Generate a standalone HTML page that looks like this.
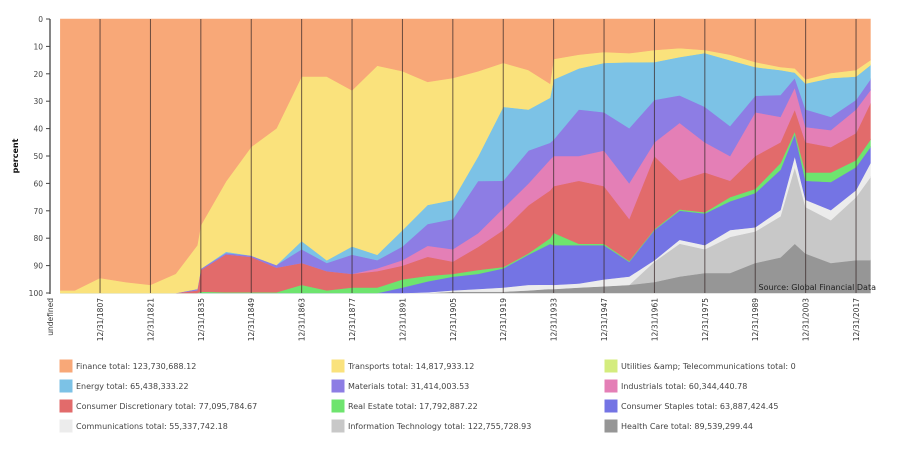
<!DOCTYPE html>
<html><head><meta charset="utf-8"><style>
body{margin:0;background:#fff;width:902px;height:454px;overflow:hidden;font-family:"DejaVu Sans","Liberation Sans",sans-serif}
svg{display:block}
</style></head><body>
<svg id="chart" width="902" height="454" xmlns="http://www.w3.org/2000/svg"></svg>
<script>
const years=[1796,1800,1807,1814,1821,1828,1834,1835,1842,1849,1856,1863,1870,1877,1884,1891,1898,1905,1912,1919,1926,1932,1933,1940,1947,1954,1961,1968,1975,1982,1989,1996,2000,2003,2010,2017,2021];
const finance=[99,99,94.5,96,97,93,83,76,60,47,40,21,21,26,17,19,23,21.5,19,16,18.6,23,14.6,13,12,12.4,11.3,10.6,11.3,13,15.7,17.5,18,22,19.7,18.6,15];
const transports=[1,1,5.5,4,3,7,16,16,26,40,50,60,67,57,69,58,45,44.5,31,16,14.4,5,7.4,5,4,3.3,4.4,3.2,1.1,2,1.8,1.1,1.5,1.5,1.8,2.4,1.8];
const utilities=[0,0,0,0,0,0,0,0,0,0,0,0,0,0,0,0,0,0,0,0,0,0,0,0,0,0,0,0,0,0,0,0,0,0,0,0,0];
const energy=[0,0,0,0,0,0,0,0,0.5,0,0,3,1,3,2,6,7,7,9,27,15,16,22,15,18,24,13.8,14,19.6,24,10.5,9.1,2,9.5,14.2,8.5,5.2];
const materials=[0,0,0,0,0,0,0.5,0.5,0.5,0.5,1,5,3,7,3,5,8,11,19,10,12,6,6,17,14,20,15.5,10,13,11,6,8,3.5,6.4,4.8,3.5,4];
const industrials=[0,0,0,0,0,0,0,0,0,0,0,0,0,0,1,2,4,4.5,5,8,8,11,11,9,13,13,5,21,11,9,16,9.3,8,5.6,6.2,8.6,4.7];
const consumerDisc=[0,0,0,0,0,0,1,8,14,13,9,8,7,5,6,5,7,4.5,8.4,13.5,17.5,17,17,23,21,15.3,26.7,10.5,14.5,6,12,7.6,8,11,9.3,9.9,13.3];
const realEstate=[0,0,0,0,0,0,0,0.5,0.3,0.3,0.3,3,1,2,2,3,2,1,1.4,0.5,0.5,2,4.5,0.5,0.5,0.3,0.3,0.5,0.5,1.5,1.5,2.4,1,3,3.5,2.5,2.7];
const consumerStaples=[0,0,0,0,0,0,0,0,0,0,0,0,0,0,0,2,4,5,5.5,7,11,14.5,14.5,14,12.5,5.4,11,10.6,11.5,10.5,12.5,14.7,8,7,10.2,8.4,5.9];
const communications=[0,0,0,0,0,0,0,0,0,0,0,0,0,0,0,0,0.3,0.5,1,1.5,2,1.5,1.5,1.5,2.5,3,0.5,1.4,1.5,2.5,1.5,2.3,4,2.6,3.7,2.6,5.1];
const infoTech=[0,0,0,0,0,0,0,0,0,0,0,0,0,0,0,0,0,0,0,0,0,0,0,0,0,0,7.5,12,8.7,13.2,11.5,15,28,17,15.6,23,30.3];
const healthCare=[0,0,0,0,0,0,0,0,0,0,0,0,0,0,0,0,0,0.5,0.5,0.5,1,1.5,1.5,2,2.5,3,4,6,7.3,7.3,11,13,18,14.4,11,12,12];
const yTicks=[0,10,20,30,40,50,60,70,80,90,100];
const xTickYears=[1807,1821,1835,1849,1863,1877,1891,1905,1919,1933,1947,1961,1975,1989,2003,2017];
const legendLabels=["Finance total: 123,730,688.12","Transports total: 14,817,933.12","Utilities &amp; Telecommunications total: 0","Energy total: 65,438,333.22","Materials total: 31,414,003.53","Industrials total: 60,344,440.78","Consumer Discretionary total: 77,095,784.67","Real Estate total: 17,792,887.22","Consumer Staples total: 63,887,424.45","Communications total: 55,337,742.18","Information Technology total: 122,755,728.93","Health Care total: 89,539,299.44"];

const NS="http://www.w3.org/2000/svg";
const svg=document.getElementById('chart');
function mk(t,a,p){const e=document.createElementNS(NS,t);for(const k in a)e.setAttribute(k,a[k]);(p||svg).appendChild(e);return e;}
const X=y=>50+(y-1793.1)*3.6;
const Y=v=>19+v*2.74;
const stack=[
 ["health-care",healthCare,"#969696"],["information-technology",infoTech,"#c8c8c8"],["communications",communications,"#ececec"],
 ["consumer-staples",consumerStaples,"#7474e4"],["real-estate",realEstate,"#6ee46e"],["consumer-discretionary",consumerDisc,"#e26b6b"],
 ["industrials",industrials,"#e47fb6"],["materials",materials,"#8d7de4"],["energy",energy,"#7cc2e6"],
 ["utilities",utilities,"#d4ec7e"],["transports",transports,"#fae27c"],["finance",finance,"#f8a878"]];
const totals=years.map((_,i)=>stack.reduce((s,d)=>s+d[1][i],0));
let base=years.map(()=>0);
stack.forEach(([name,vals,col])=>{
  const top=base.map((b,i)=>b+vals[i]/totals[i]*100);
  let d="";
  years.forEach((yr,i)=>{d+=(i?"L":"M")+X(yr).toFixed(1)+","+Y(100-top[i]).toFixed(1);});
  for(let i=years.length-1;i>=0;i--)d+="L"+X(years[i]).toFixed(1)+","+Y(100-base[i]).toFixed(1);
  const p=mk('path',{d:d+"Z",fill:col,stroke:col,'stroke-width':0.6});
  
  
  base=top;
});
xTickYears.forEach(yr=>{
  const x=X(yr);
  const l=mk('line',{x1:x,x2:x,y1:19,y2:293,stroke:'#3a2a2a','stroke-width':1,'stroke-opacity':0.75});
  
  
  const t=mk('text',{x:0,y:0,transform:`translate(${x+3},298) rotate(-90)`,'text-anchor':'end','font-size':7.5,fill:'#333'});
  t.textContent='12/31/'+yr;
  
  
});
const u=mk('text',{transform:'translate(53,298) rotate(-90)','text-anchor':'end','font-size':7.5,fill:'#333'});
u.textContent='undefined';


const ax=mk('line',{x1:50,x2:50,y1:19,y2:294,stroke:'#444','stroke-width':1.3});


yTicks.forEach(v=>{
  const tk=mk('line',{x1:46,x2:50,y1:Y(v),y2:Y(v),stroke:'#444'});
  
  
  const t=mk('text',{x:43,y:Y(v)+3,'text-anchor':'end','font-size':7.5,fill:'#444'});
  t.textContent=v;
  
  
});
const yt=mk('text',{transform:'translate(18,156) rotate(-90)','text-anchor':'middle','font-size':8,'font-weight':'bold',fill:'#111'});
yt.textContent='percent';


const src=mk('text',{x:876,y:290,'text-anchor':'end','font-size':8,fill:'#222'});
src.textContent='Source: Global Financial Data';


const legendColors=["#f8a878","#fae27c","#d4ec7e","#7cc2e6","#8d7de4","#e47fb6","#e26b6b","#6ee46e","#7474e4","#ececec","#c8c8c8","#969696"];
const colX=[60,332,605],rowY=[360,380,400,420];
legendLabels.forEach((lab,i)=>{
  const g=mk('g',{});
  
  
  const x=colX[i%3],y=rowY[Math.floor(i/3)];
  mk('rect',{x:x,y:y,width:12,height:12,fill:legendColors[i],stroke:legendColors[i]},g);
  const t=mk('text',{x:x+16,y:y+9,'font-size':8,fill:'#444'},g);
  t.textContent=lab;
});
</script>
</body></html>
